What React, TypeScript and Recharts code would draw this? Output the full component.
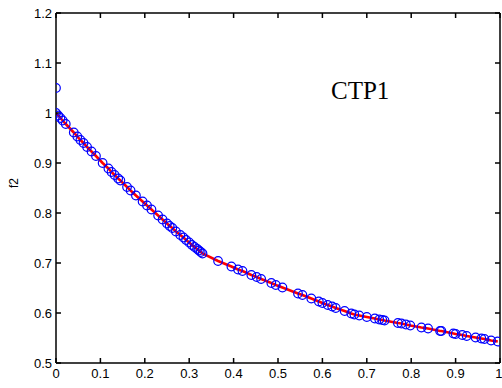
import React from "react";
import {
  ComposedChart, Line, Scatter, XAxis, YAxis, ReferenceDot,
} from "recharts";

// obtained Pareto front points (f1, f2)
const f1Values = [
  0.000, 0.005, 0.010, 0.015, 0.022, 0.040, 0.048, 0.055, 0.062, 0.070,
  0.080, 0.090, 0.105, 0.118, 0.125, 0.132, 0.140, 0.145, 0.160, 0.168,
  0.180, 0.195, 0.205, 0.215, 0.230, 0.240, 0.250, 0.256, 0.262, 0.270,
  0.280, 0.287, 0.293, 0.300, 0.306, 0.312, 0.318, 0.322, 0.326, 0.330,
  0.365, 0.395, 0.410, 0.420, 0.440, 0.452, 0.462, 0.485, 0.495, 0.510,
  0.545, 0.555, 0.575, 0.592, 0.600, 0.612, 0.622, 0.630, 0.650, 0.665,
  0.672, 0.683, 0.700, 0.718, 0.728, 0.735, 0.740, 0.770, 0.778, 0.788,
  0.798, 0.823, 0.838, 0.865, 0.868, 0.895, 0.900, 0.915, 0.925, 0.945,
  0.958, 0.965, 0.980, 0.995,
];
const f2Values = [
  1.000, 0.995, 0.990, 0.985, 0.978, 0.961, 0.953, 0.946, 0.940, 0.932,
  0.923, 0.914, 0.900, 0.889, 0.882, 0.876, 0.869, 0.865, 0.852, 0.845,
  0.835, 0.823, 0.815, 0.807, 0.795, 0.787, 0.779, 0.774, 0.770, 0.763,
  0.756, 0.751, 0.746, 0.741, 0.736, 0.732, 0.728, 0.725, 0.722, 0.719,
  0.704, 0.693, 0.687, 0.684, 0.676, 0.672, 0.668, 0.660, 0.656, 0.651,
  0.639, 0.636, 0.629, 0.623, 0.620, 0.616, 0.613, 0.610, 0.604, 0.599,
  0.597, 0.595, 0.592, 0.589, 0.587, 0.586, 0.585, 0.580, 0.579, 0.577,
  0.575, 0.571, 0.569, 0.564, 0.564, 0.559, 0.558, 0.556, 0.554, 0.551,
  0.549, 0.548, 0.545, 0.543,
];
// single point off the front
const outlierF1 = [0.0];
const outlierF2 = [1.05];

const xTicks = [0, 0.1, 0.2, 0.3, 0.4, 0.5, 0.6, 0.7, 0.8, 0.9, 1];
const yTicks = [0.5, 0.6, 0.7, 0.8, 0.9, 1, 1.1, 1.2];

const front = f1Values.map((f1, i) => ({ f1, f2: f2Values[i] }));
const outliers = outlierF1.map((f1, i) => ({ f1, f2: outlierF2[i] }));

const font = "Liberation Sans, Arial, sans-serif";
const tickStyle = { fontSize: 13, fill: "#000", fontFamily: font };
const axisLine = { stroke: "#000", strokeWidth: 1.5 };

const Ring = (props: any) => (
  <circle cx={props.cx} cy={props.cy} r={4.3} fill="none" stroke="#0000ff" strokeWidth={1.2} />
);

export default function App() {
  return (
    <div style={{ position: "absolute", left: 0, top: 0, background: "#fff" }}>
      <ComposedChart
        width={502}
        height={388}
        data={front}
        margin={{ top: 12, right: 1, bottom: 0, left: 0 }}
      >
        <XAxis
          dataKey="f1"
          type="number"
          domain={[0, 1]}
          ticks={xTicks}
          height={25}
          tickSize={-5}
          tickMargin={11}
          axisLine={axisLine}
          tickLine={axisLine}
          tick={tickStyle}
          allowDataOverflow
        />
        <XAxis
          xAxisId="top"
          dataKey="f1"
          orientation="top"
          type="number"
          domain={[0, 1]}
          ticks={xTicks}
          height={1}
          tickSize={-5}
          axisLine={axisLine}
          tickLine={axisLine}
          tickFormatter={() => ""}
          allowDataOverflow
        />
        <YAxis
          type="number"
          domain={[0.5, 1.2]}
          ticks={yTicks}
          width={56}
          tickSize={-5}
          tickMargin={9}
          axisLine={axisLine}
          tickLine={axisLine}
          tick={tickStyle}
          allowDataOverflow
          label={{ value: "f2", angle: -90, position: "insideLeft", offset: 14, style: { fontSize: 12, fill: "#000", fontFamily: font } }}
        />
        <YAxis
          yAxisId="right"
          orientation="right"
          type="number"
          domain={[0.5, 1.2]}
          ticks={yTicks}
          width={1}
          tickSize={-5}
          axisLine={axisLine}
          tickLine={axisLine}
          tickFormatter={() => ""}
          allowDataOverflow
        />
        <Scatter dataKey="f2" data={front} shape={Ring} isAnimationActive={false} />
        <Scatter
          xAxisId="top"
          yAxisId="right"
          dataKey="f2"
          data={outliers}
          shape={Ring}
          isAnimationActive={false}
        />
        <Line
          type="linear"
          dataKey="f2"
          stroke="#ff0000"
          strokeWidth={2.6}
          dot={false}
          activeDot={false}
          isAnimationActive={false}
        />
        <ReferenceDot
          x={0.685}
          y={1.045}
          r={0}
          fill="none"
          stroke="none"
          label={{ value: "CTP1", position: "center", style: { fontSize: 25, fill: "#000", fontFamily: "Liberation Serif, Times New Roman, serif" } }}
        />
      </ComposedChart>
    </div>
  );
}
